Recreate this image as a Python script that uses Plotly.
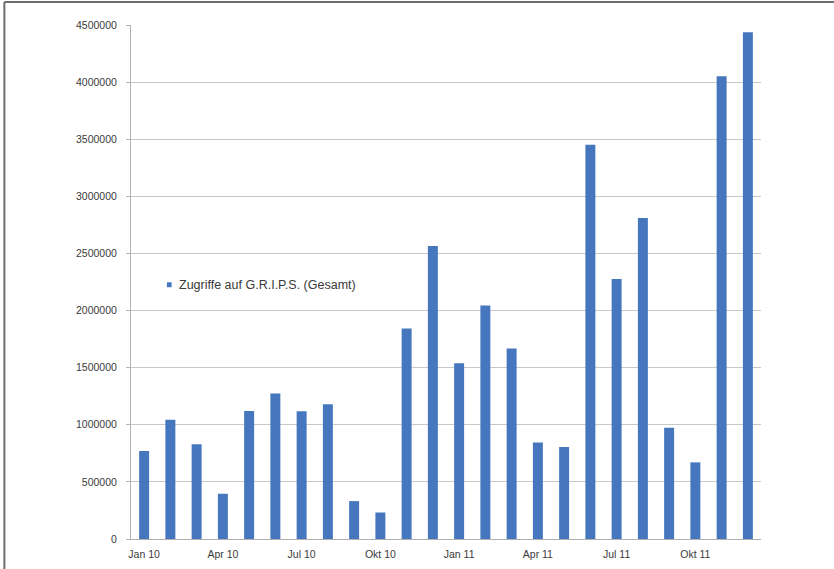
import plotly.graph_objects as go

# Monthly accesses, Jan 2010 - Dec 2011
months = ["Jan 10", "Feb 10", "Mrz 10", "Apr 10", "Mai 10", "Jun 10",
          "Jul 10", "Aug 10", "Sep 10", "Okt 10", "Nov 10", "Dez 10",
          "Jan 11", "Feb 11", "Mrz 11", "Apr 11", "Mai 11", "Jun 11",
          "Jul 11", "Aug 11", "Sep 11", "Okt 11", "Nov 11", "Dez 11"]
zugriffe = [770000, 1045000, 830000, 396000, 1120000, 1274000,
            1118000, 1180000, 332000, 232000, 1842000, 2566000,
            1538000, 2044000, 1668000, 844000, 806000, 3452000,
            2276000, 2810000, 975000, 671000, 4051000, 4437000]
tick_months = ["Jan 10", "Apr 10", "Jul 10", "Okt 10",
               "Jan 11", "Apr 11", "Jul 11", "Okt 11"]
y_ticks = [0, 500000, 1000000, 1500000, 2000000, 2500000,
           3000000, 3500000, 4000000, 4500000]
series_name = "Zugriffe auf G.R.I.P.S. (Gesamt)"
bar_color = "#4677BE"

fig = go.Figure()
fig.add_trace(go.Bar(
    x=months, y=zugriffe,
    name=series_name,
    marker=dict(color=bar_color, line=dict(width=0)),
    showlegend=False,
))

font = dict(family="Liberation Sans, Arial, sans-serif", size=10.5, color="#3a3a3a")

fig.update_layout(
    width=834, height=569,
    margin=dict(l=131, r=73, t=25, b=30, pad=0, autoexpand=False),
    paper_bgcolor="white", plot_bgcolor="white",
    bargap=0.62,
    font=font,
    xaxis=dict(
        type="category", categoryorder="array", categoryarray=months,
        tickmode="array", tickvals=tick_months, ticktext=tick_months,
        showline=True, linecolor="#b0b0b0", linewidth=1,
        ticks="", showgrid=False, ticklabelstandoff=5,
        tickfont=font, automargin=False,
    ),
    yaxis=dict(
        range=[0, 4500000], tickmode="array", tickvals=y_ticks,
        ticktext=[str(v) for v in y_ticks],
        showline=True, linecolor="#b0b0b0", linewidth=1,
        ticks="outside", ticklen=4, tickcolor="#b0b0b0",
        showgrid=True, gridcolor="#c8c8c8", gridwidth=1,
        zeroline=False, ticklabelstandoff=7,
        tickfont=font, automargin=False,
    ),
    shapes=[
        # frame lines along the top and left edge of the page
        dict(type="line", xref="paper", yref="paper",
             x0=-0.201, x1=1.12, y0=1.0448, y1=1.0448,
             line=dict(color="#6e6e6e", width=2)),
        dict(type="line", xref="paper", yref="paper",
             x0=-0.201, x1=-0.201, y0=-0.07, y1=1.0448,
             line=dict(color="#6e6e6e", width=2)),
        # legend key
        dict(type="rect", xref="paper", yref="paper",
             x0=0.0570, x1=0.0645, y0=0.4898, y1=0.4995,
             fillcolor=bar_color, line=dict(width=0)),
    ],
    annotations=[
        dict(text=series_name, xref="paper", yref="paper",
             x=0.0725, y=0.4946, xanchor="left", yanchor="middle",
             showarrow=False,
             font=dict(family="Liberation Sans, Arial, sans-serif",
                       size=12.5, color="#3a3a3a")),
    ],
)

fig.write_html("out.html")
